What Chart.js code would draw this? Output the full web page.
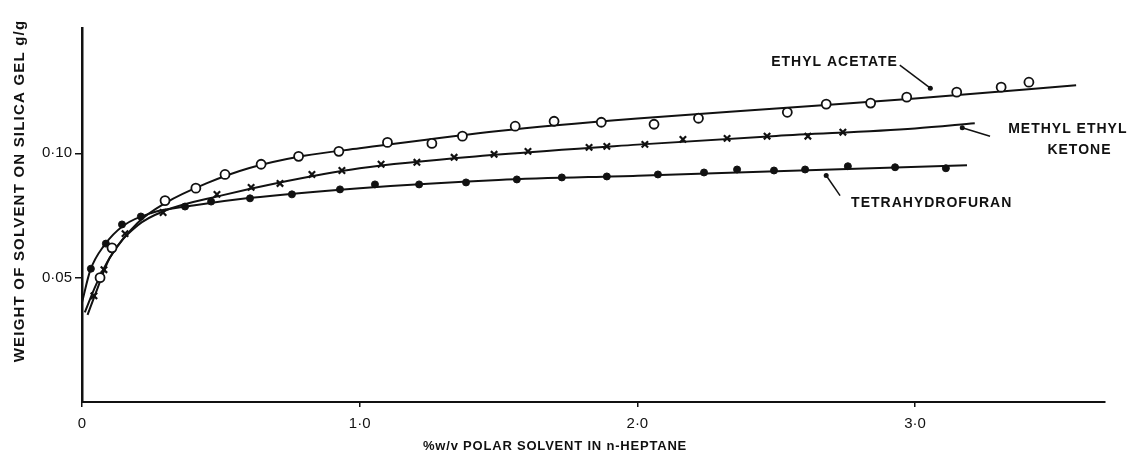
<!DOCTYPE html>
<html>
<head>
<meta charset="utf-8">
<script src="https://cdn.jsdelivr.net/npm/chart.js@4/dist/chart.umd.min.js"></script>
<style>
html,body{margin:0;padding:0;background:#fff;}
#wrap{position:relative;width:1129px;height:459px;}
</style>
</head>
<body>
<div id="wrap"><canvas id="c" width="1129" height="459"></canvas></div>
<script>
// ---- data ----
const eaX = [0.065,0.108,0.299,0.41,0.515,0.645,0.78,0.925,1.10,1.26,1.37,1.56,1.70,1.87,2.06,2.22,2.54,2.68,2.84,2.97,3.15,3.31,3.41];
const eaY = [0.050,0.062,0.081,0.086,0.0915,0.0956,0.0988,0.1008,0.1044,0.104,0.1069,0.1109,0.1129,0.1125,0.1117,0.1141,0.1165,0.1198,0.1202,0.1226,0.1246,0.1266,0.1286];

const mekX = [0.043,0.079,0.155,0.292,0.486,0.609,0.713,0.828,0.936,1.077,1.206,1.34,1.484,1.606,1.826,1.89,2.027,2.164,2.323,2.467,2.614,2.74];
const mekY = [0.0427,0.0532,0.0677,0.0762,0.0835,0.0863,0.0879,0.0915,0.0931,0.0956,0.0964,0.0984,0.0996,0.1008,0.1024,0.1028,0.1036,0.1056,0.1060,0.1069,0.1069,0.1085];

const thfX = [0.032,0.086,0.144,0.212,0.371,0.465,0.605,0.756,0.929,1.055,1.214,1.383,1.566,1.728,1.89,2.074,2.24,2.359,2.492,2.604,2.758,2.928,3.111];
const thfY = [0.0536,0.0637,0.0714,0.0746,0.0786,0.0806,0.0819,0.0835,0.0855,0.0875,0.0875,0.0883,0.0895,0.0903,0.0907,0.0915,0.0923,0.0935,0.0931,0.0935,0.0948,0.0944,0.0940];

// hand-drawn fitted curves
const eaFitX = [0.01,0.05,0.1,0.2,0.3,0.45,0.6,0.8,1.0,1.5,2.0,2.5,3.0,3.58];
const eaFitY = [0.036,0.047,0.058,0.072,0.080,0.088,0.094,0.099,0.102,0.109,0.114,0.118,0.122,0.1274];
const mekFitX = [0.02,0.05,0.1,0.2,0.3,0.5,0.7,1.0,1.5,2.0,2.5,3.0,3.215];
const mekFitY = [0.035,0.044,0.058,0.071,0.077,0.083,0.088,0.094,0.0995,0.1035,0.107,0.110,0.1121];
const thfFitX = [0.0,0.03,0.08,0.15,0.25,0.4,0.6,1.0,1.5,2.0,2.5,3.187];
const thfFitY = [0.040,0.053,0.063,0.071,0.076,0.079,0.082,0.086,0.0893,0.091,0.0928,0.0952];

const seriesNames = ['ETHYL ACETATE','METHYL ETHYL KETONE','TETRAHYDROFURAN'];

const xTickValues = [0,1,2,3];
const xTickLabels = ['0','1·0','2·0','3·0'];
const yTickValues = [0.05,0.10];
const yTickLabels = ['0·05','0·10'];

const xTitle = '%w/v POLAR SOLVENT IN n-HEPTANE';
const yTitle = 'WEIGHT OF SOLVENT ON SILICA GEL g/g';

// ---- build ----
const pts = (xs, ys) => xs.map((x, i) => ({x: x, y: ys[i]}));
const INK = '#111';

const fitStyle = {type:'line', borderColor:INK, borderWidth:2, pointRadius:0, fill:false,
  tension:0.4, cubicInterpolationMode:'monotone', order:2};

// label annotations, in data coordinates
const notes = [
  {lines:[seriesNames[0]], at:{x:2.71, y:0.1368}, align:'center', from:{x:2.945,y:0.1355}, to:{x:3.055,y:0.1262}},
  {lines:['METHYL ETHYL','KETONE'], at:{x:3.765, y:0.1098}, align:'right', from:{x:3.27,y:0.1069}, to:{x:3.17,y:0.1103}},
  {lines:[seriesNames[2]], at:{x:3.06, y:0.0800}, align:'center', from:{x:2.73,y:0.0830}, to:{x:2.68,y:0.0911}}
];

const FONT = '"Liberation Sans", "DejaVu Sans", sans-serif';

const decor = {
  id:'decor',
  afterDraw(chart){
    const ctx = chart.ctx, xs = chart.scales.x, ys = chart.scales.y;
    ctx.save();
    ctx.fillStyle = INK; ctx.strokeStyle = INK;
    // annotations
    ctx.font = 'bold 14px ' + FONT;
    ctx.letterSpacing = '1px';
    ctx.textBaseline = 'middle';
    notes.forEach(n => {
      ctx.textAlign = n.align;
      const px = xs.getPixelForValue(n.at.x), py = ys.getPixelForValue(n.at.y);
      n.lines.forEach((t, i) => ctx.fillText(t, px - (n.align==='right' && i===1 ? 16 : 0), py + i*21));
      const a = {x: xs.getPixelForValue(n.from.x), y: ys.getPixelForValue(n.from.y)};
      const b = {x: xs.getPixelForValue(n.to.x), y: ys.getPixelForValue(n.to.y)};
      ctx.lineWidth = 1.5;
      ctx.beginPath(); ctx.moveTo(a.x, a.y); ctx.lineTo(b.x, b.y); ctx.stroke();
      ctx.beginPath(); ctx.arc(b.x, b.y, 2.5, 0, Math.PI*2); ctx.fill();
    });
    // axis titles
    ctx.textAlign = 'center';
    ctx.font = 'bold 13px ' + FONT;
    ctx.letterSpacing = '0.8px';
    ctx.fillText(xTitle, 555, 446);
    ctx.translate(20, 191);
    ctx.rotate(-Math.PI/2);
    ctx.font = 'bold 15px ' + FONT;
    ctx.letterSpacing = '1.2px';
    ctx.fillText(yTitle, 0, 0);
    ctx.restore();
  }
};

new Chart(document.getElementById('c'), {
  data:{
    datasets:[
      Object.assign({label:'ea fit', data:pts(eaFitX, eaFitY)}, fitStyle),
      Object.assign({label:'mek fit', data:pts(mekFitX, mekFitY)}, fitStyle),
      Object.assign({label:'thf fit', data:pts(thfFitX, thfFitY)}, fitStyle),
      {type:'scatter', label:seriesNames[0], data:pts(eaX, eaY), pointStyle:'circle', pointRadius:4.5,
        pointBorderWidth:1.8, pointBorderColor:INK, pointBackgroundColor:'#fff', order:1},
      {type:'scatter', label:seriesNames[1], data:pts(mekX, mekY), pointStyle:'crossRot', pointRadius:4.5,
        pointBorderWidth:2.2, pointBorderColor:INK, pointBackgroundColor:INK, order:1},
      {type:'scatter', label:seriesNames[2], data:pts(thfX, thfY), pointStyle:'circle', pointRadius:3.5,
        pointBorderWidth:1, pointBorderColor:INK, pointBackgroundColor:INK, order:1}
    ]
  },
  options:{
    responsive:false, animation:false, devicePixelRatio:1,
    layout:{padding:{top:28, right:24, left:0, bottom:0}},
    plugins:{legend:{display:false}, tooltip:{enabled:false}},
    scales:{
      x:{type:'linear', min:0, max:3.684,
        afterBuildTicks(s){ s.ticks = xTickValues.map(v => ({value:v})); },
        afterFit(s){ s.height = 57; },
        ticks:{color:INK, font:{family:FONT, size:15}, padding:8,
          callback:(v) => { const i = xTickValues.indexOf(v); return i>=0 ? xTickLabels[i] : ''; }},
        grid:{display:true, drawOnChartArea:false, drawTicks:true, tickLength:5, color:INK, lineWidth:1.5},
        border:{display:true, color:INK, width:2}
      },
      y:{type:'linear', min:0, max:0.1504,
        afterBuildTicks(s){ s.ticks = yTickValues.map(v => ({value:v})); },
        afterFit(s){ s.width = 82; },
        ticks:{color:INK, font:{family:FONT, size:15}, padding:3,
          callback:(v) => { const i = yTickValues.findIndex(t => Math.abs(t-v)<1e-9); return i>=0 ? yTickLabels[i] : ''; }},
        grid:{display:true, drawOnChartArea:false, drawTicks:true, tickLength:7, color:INK, lineWidth:1.5},
        border:{display:true, color:INK, width:2.5}
      }
    }
  },
  plugins:[decor]
});
</script>
</body>
</html>
